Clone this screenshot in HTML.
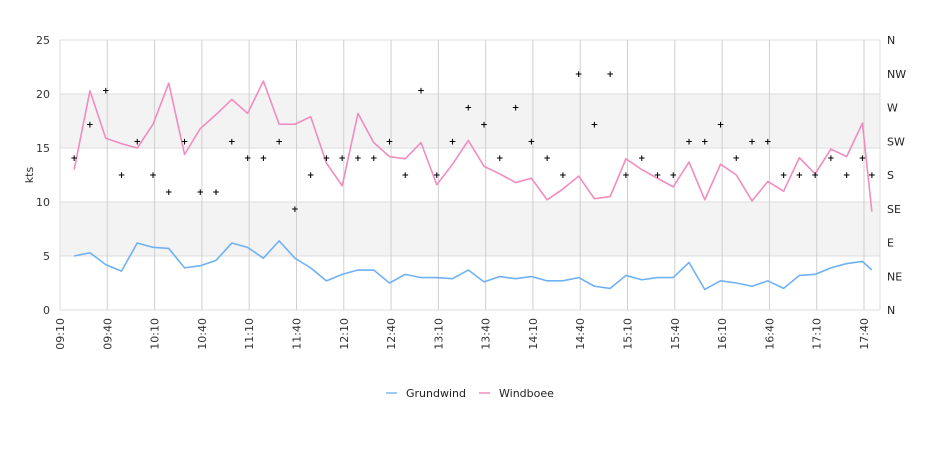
<!DOCTYPE html>
<html><head><meta charset="utf-8"><style>
body{margin:0;background:#fff;}
svg{display:block;font-family:"DejaVu Sans","Liberation Sans",sans-serif;}
</style></head><body>
<svg id="chart" width="940" height="450"></svg>
<script>
const times=[9,19,29,39,49,59,69,79,89,99,109,119,129,139,149,159,169,179,189,199,209,219,229,239,249,259,269,279,289,299,309,319,329,339,349,359,369,379,389,399,409,419,429,439,449,459,469,479,489,499,509,515];
const grundwind=[5.0,5.3,4.2,3.6,6.2,5.8,5.7,3.9,4.1,4.6,6.2,5.8,4.8,6.4,4.8,3.9,2.7,3.3,3.7,3.7,2.5,3.3,3.0,3.0,2.9,3.7,2.6,3.1,2.9,3.1,2.7,2.7,3.0,2.2,2.0,3.2,2.8,3.0,3.0,4.4,1.9,2.7,2.5,2.2,2.7,2.0,3.2,3.3,3.9,4.3,4.5,3.7];
const windboee=[13.0,20.3,15.9,15.4,15.0,17.2,21.0,14.4,16.8,18.1,19.5,18.2,21.2,17.2,17.2,17.9,13.6,11.5,18.2,15.5,14.2,14.0,15.5,11.6,13.5,15.7,13.3,12.6,11.8,12.2,10.2,11.2,12.4,10.3,10.5,14.0,13.0,12.2,11.4,13.7,10.2,13.5,12.5,10.1,11.9,11.0,14.1,12.6,14.9,14.2,17.3,9.1];
const direction=[202.5,247.5,292.5,180,225,180,157.5,225,157.5,157.5,225,202.5,202.5,225,135,180,202.5,202.5,202.5,202.5,225,180,292.5,180,225,270,247.5,202.5,270,225,202.5,180,315,247.5,315,180,202.5,180,180,225,225,247.5,202.5,225,225,180,180,180,202.5,180,202.5,180];
const xTicks=["09:10","09:40","10:10","10:40","11:10","11:40","12:10","12:40","13:10","13:40","14:10","14:40","15:10","15:40","16:10","16:40","17:10","17:40"];
const yTicks=[0,5,10,15,20,25];
const dirTicks=["N","NE","E","SE","S","SW","W","NW","N"];
const L=60,R=880,T=40,B=310;
const x=m=>L+m*(864-L)/510;
const y=v=>B-v*(B-T)/25;
const yd=d=>B-d/360*(B-T);
const svg=document.getElementById('chart');
const NS='http://www.w3.org/2000/svg';
function mk(t,a,p){const e=document.createElementNS(NS,t);for(const k in a)e.setAttribute(k,a[k]);(p||svg).appendChild(e);return e;}
// bands
[[5,10],[15,20]].forEach(b=>{const r=mk('rect',{x:L,y:y(b[1]),width:R-L,height:y(b[0])-y(b[1]),fill:'#f3f3f3'});

});
yTicks.forEach(v=>{const l=mk('line',{x1:L,x2:R,y1:y(v),y2:y(v),stroke:'#dcdcdc'});


const t=mk('text',{x:L-10,y:y(v)+4,'text-anchor':'end','font-size':11,fill:'#333'});t.textContent=v;

});
xTicks.forEach((s,i)=>{const xx=x(i*30);const l=mk('line',{x1:xx,x2:xx,y1:T,y2:B,stroke:'#cfcfcf'});


const t=mk('text',{x:0,y:0,'text-anchor':'end','font-size':11,fill:'#333',transform:`translate(${xx+4},${B+8}) rotate(-90)`});t.textContent=s;

});
mk('line',{x1:L,x2:L,y1:T,y2:B,stroke:'#dcdcdc'});
mk('line',{x1:R,x2:R,y1:T,y2:B,stroke:'#dcdcdc'});
dirTicks.forEach((s,i)=>{const t=mk('text',{x:R+7,y:yd(i*45)+4,'font-size':11,fill:'#222'});t.textContent=s;

});
const yt=mk('text',{x:0,y:0,'text-anchor':'middle','font-size':11,fill:'#333',transform:'translate(33,175) rotate(-90)'});yt.textContent='kts';


function line(vals,col,name){const p=mk('polyline',{points:vals.map((v,i)=>x(times[i])+','+y(v)).join(' '),fill:'none',stroke:col,'stroke-width':1.6,'stroke-linejoin':'round'});

}
line(grundwind,'#6fb1f2','grundwind-line');
line(windboee,'#f28cbf','windboee-line');
direction.forEach((d,i)=>{const t=mk('text',{x:x(times[i]),y:yd(d)+3,'text-anchor':'middle','font-size':9,'font-weight':'bold',fill:'#000'});t.textContent='+';

});
// legend
[['Grundwind','#9ecaf5',386],['Windboee','#f5a9cf',479]].forEach(e=>{const g=mk('g',{});


mk('line',{x1:e[2],x2:e[2]+11,y1:393,y2:393,stroke:e[1],'stroke-width':2},g);
const t=mk('text',{x:e[2]+20,y:397,'font-size':11,fill:'#222'},g);t.textContent=e[0];});
</script>
</body></html>
